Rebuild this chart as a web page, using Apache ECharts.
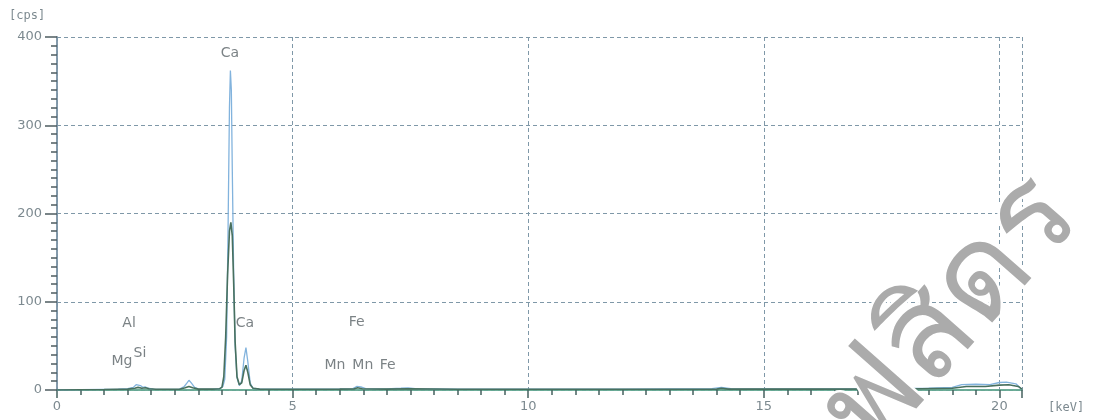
<!DOCTYPE html>
<html>
<head>
<meta charset="utf-8">
<script src="https://cdn.jsdelivr.net/npm/echarts@6/dist/echarts.min.js"></script>
<style>
    html, body { margin: 0; padding: 0; background: #fff; }
    #chart { width: 1096px; height: 420px; }
</style>
</head>
<body>
<div id="chart"></div>
<script>
// spectrum 1 (light blue), [keV, cps]
var spectrumBlue = [
    [0, 0], [0.5, 0.5], [1.0, 0.8], [1.3, 1], [1.5, 1.5], [1.62, 3], [1.68, 6], [1.72, 8], [1.77, 5],
    [1.82, 3], [1.87, 3.5], [1.93, 2], [2.05, 1], [2.3, 0.8], [2.6, 1], [2.7, 4], [2.76, 8], [2.8, 11],
    [2.85, 8], [2.92, 3], [3.0, 1.2], [3.3, 1], [3.45, 1.5], [3.52, 4], [3.56, 12], [3.6, 60], [3.63, 180],
    [3.66, 320], [3.68, 362], [3.7, 340], [3.72, 250], [3.75, 130], [3.78, 50], [3.82, 14], [3.87, 5],
    [3.92, 10], [3.97, 36], [4.01, 48], [4.05, 32], [4.1, 8], [4.16, 2], [4.3, 1], [5.0, 1], [6.0, 1.2],
    [6.28, 1.5], [6.36, 4], [6.45, 3.5], [6.55, 1.5], [7.0, 1.2], [7.3, 2], [7.45, 2.5], [7.6, 1.5],
    [8.5, 1], [10, 1], [12, 1], [13.9, 1.5], [14.1, 3], [14.3, 1.5], [16, 1.2], [17.5, 1.5], [18.5, 2],
    [19.0, 3], [19.2, 6], [19.5, 6.5], [19.8, 6], [20.0, 8.5], [20.15, 9], [20.35, 7], [20.45, 2], [20.48, 1]
];
// spectrum 2 (dark green), [keV, cps]
var spectrumGreen = [
    [0, 0], [0.5, 0.3], [1.0, 0.5], [1.3, 0.8], [1.5, 1], [1.65, 2], [1.72, 3], [1.8, 2], [1.88, 2.5],
    [1.95, 1.5], [2.1, 0.8], [2.6, 0.8], [2.72, 2.5], [2.8, 4], [2.88, 2.5], [3.0, 1], [3.3, 1], [3.45, 1.5],
    [3.5, 3], [3.54, 15], [3.58, 60], [3.62, 130], [3.66, 180], [3.69, 190], [3.72, 175], [3.75, 120],
    [3.78, 55], [3.82, 15], [3.87, 6], [3.92, 8], [3.97, 22], [4.01, 28], [4.05, 20], [4.1, 6], [4.16, 2],
    [4.3, 1], [5.0, 0.8], [6.0, 1], [6.3, 1.2], [6.38, 2.5], [6.48, 1.5], [7.0, 1], [7.45, 1.5], [8.5, 0.8],
    [10, 0.8], [12, 0.8], [14.0, 1], [14.1, 2], [14.25, 1], [16, 1], [18, 1.2], [19.0, 2], [19.3, 4],
    [19.7, 4], [20.0, 5.5], [20.2, 6], [20.4, 4], [20.48, 1]
];
// element labels, [keV, cps] anchors
var peakNames = ["Ca", "Al", "Ca", "Fe", "Mg", "Si", "Mn", "Mn", "Fe"];
var peakKeV = [3.67, 1.53, 3.99, 6.36, 1.38, 1.76, 5.9, 6.49, 7.02];
var peakCps = [382, 76, 76, 77, 32, 42, 28, 28, 28];

var xTicks = [0, 5, 10, 15, 20];
var yTicks = [0, 100, 200, 300, 400];

var labelData = peakNames.map(function (name, i) {
    return {value: [peakKeV[i], peakCps[i]], name: name};
});

var gridColor = "#7f98a8";
var textColor = "#7d8a90";

var option = {
    animation: false,
    grid: {left: 57, right: 74, top: 37, bottom: 30},
    xAxis: [{
        type: "value",
        min: 0,
        max: 20.48,
        interval: 5,
        axisLine: {show: true, onZero: false, lineStyle: {color: "#46625f", width: 1.5}},
        axisTick: {show: true, inside: false, length: 8, lineStyle: {color: "#46625f", width: 1.5}},
        minorTick: {show: true, splitNumber: 10, length: 5, lineStyle: {color: "#46625f", width: 1.5}},
        axisLabel: {
            color: textColor, fontSize: 13, margin: 10, fontFamily: "DejaVu Sans",
            showMaxLabel: false,
            formatter: function (v) { return xTicks.indexOf(v) >= 0 ? String(v) : ""; }
        },
        splitLine: {show: true, lineStyle: {color: gridColor, type: [4, 3], width: 1}}
    }, {
        type: "value",
        position: "top",
        min: 0,
        max: 20.48,
        axisLine: {show: true, lineStyle: {color: "#6dbba0", width: 1.5}},
        axisTick: {show: false},
        axisLabel: {show: false},
        splitLine: {show: false}
    }],
    yAxis: [{
        type: "value",
        min: 0,
        max: 400,
        interval: 100,
        axisLine: {show: true, lineStyle: {color: "#4e5c60", width: 1.5}},
        axisTick: {show: true, length: 12, lineStyle: {color: "#4e5c60", width: 1.5}},
        minorTick: {show: true, splitNumber: 10, length: 6, lineStyle: {color: "#4e5c60", width: 1.5}},
        axisLabel: {
            color: textColor, fontSize: 13, margin: 15, fontFamily: "DejaVu Sans",
            formatter: function (v) { return yTicks.indexOf(v) >= 0 ? String(v) : ""; }
        },
        splitLine: {show: true, lineStyle: {color: gridColor, type: [4, 3], width: 1}}
    }, {
        type: "value",
        position: "right",
        min: 0,
        max: 400,
        axisLine: {show: true, lineStyle: {color: "#8aa3b8", width: 1.5}},
        axisTick: {show: false},
        axisLabel: {show: false},
        splitLine: {show: false}
    }],
    series: [{
        type: "line",
        data: spectrumBlue,
        showSymbol: false,
        lineStyle: {color: "#82b3dd", width: 1.3},
        z: 3
    }, {
        type: "line",
        data: spectrumGreen,
        showSymbol: false,
        lineStyle: {color: "#48705e", width: 1.6},
        z: 4
    }, {
        type: "scatter",
        data: labelData,
        symbolSize: 0,
        silent: true,
        label: {
            show: true,
            position: "inside",
            formatter: "{b}",
            color: "#5a6366",
            fontSize: 14,
            fontFamily: "DejaVu Sans"
        },
        z: 5
    }],
    graphic: [{
        type: "text",
        left: 9,
        top: 10,
        style: {text: "[cps]", fill: textColor, font: "12px DejaVu Sans Mono"}
    }, {
        type: "text",
        left: 1048,
        top: 402,
        style: {text: "[keV]", fill: textColor, font: "12px DejaVu Sans Mono"}
    }, {
        // watermark
        type: "text",
        x: 950,
        y: 315,
        rotation: Math.PI * 0.27,
        style: {
            text: "ฟสิดร",
            fill: "#ababab",
            stroke: "#ffffff",
            lineWidth: 5,
            font: "128px 'Noto Sans', 'DejaVu Sans', sans-serif",
            align: "center",
            verticalAlign: "middle"
        },
        z: 100
    }]
};

var chart = echarts.init(document.getElementById("chart"));
chart.setOption(option);
</script>
</body>
</html>
